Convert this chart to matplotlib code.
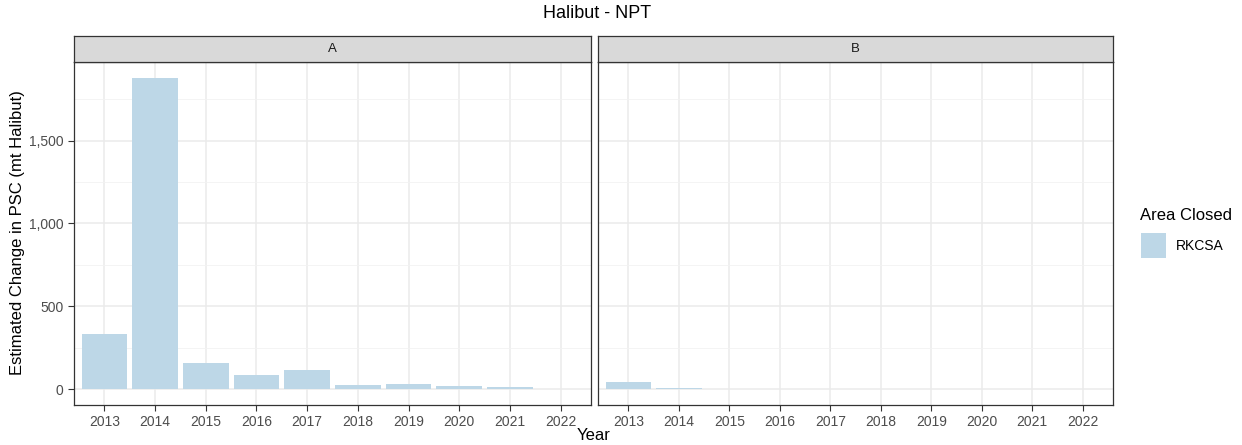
import numpy as np
import matplotlib.pyplot as plt
from matplotlib.patches import Rectangle, Patch
from matplotlib.ticker import FuncFormatter

# data
years = ['2013', '2014', '2015', '2016', '2017', '2018', '2019', '2020', '2021', '2022']
panels = ['A', 'B']
psc_a = [331, 1880, 157, 84, 114, 22, 32, 18, 10, 1]
psc_b = [42, 5, 1, 1, 0.5, 0.5, 0.5, 3, 0.5, 0.5]
values = {'A': psc_a, 'B': psc_b}

bar_color = '#bdd7e7'
plt.rcParams['font.family'] = ['Arial', 'Liberation Sans', 'DejaVu Sans']

fig = plt.figure(figsize=(12.42, 4.45), dpi=100)
W, H = 1242, 445
boxes = [(74, 591), (598, 1113)]
top, bottom, strip_h = 62, 405, 26

ymin, ymax = -96, 1974
x = np.arange(len(years))
axes = []
for (l, r), p in zip(boxes, panels):
    ax = fig.add_axes([l / W, 1 - bottom / H, (r - l) / W, (bottom - top) / H])
    ax.set_axisbelow(True)
    ax.bar(x, values[p], width=0.9, color=bar_color, zorder=2)
    ax.set_xlim(-0.6, len(years) - 0.4)
    ax.set_ylim(ymin, ymax)
    ax.set_xticks(x)
    ax.set_xticklabels(years)
    ax.set_yticks([0, 500, 1000, 1500])
    ax.set_yticks([250, 750, 1250, 1750], minor=True)
    ax.grid(True, which='major', color='#ebebeb', lw=1.1, zorder=0)
    ax.grid(True, which='minor', axis='y', color='#f2f2f2', lw=0.6, zorder=0)
    ax.tick_params(which='major', length=4, color='#333333', labelsize=10, labelcolor='#4d4d4d', width=0.8)
    ax.tick_params(which='minor', length=0)
    for s in ax.spines.values():
        s.set_color('#333333')
        s.set_linewidth(0.9)
    ax.yaxis.set_major_formatter(FuncFormatter(lambda v, pos: f'{int(v):,}'))
    if p == 'B':
        ax.set_yticklabels([])
        ax.tick_params(axis='y', length=0)
    # facet strip
    sax = fig.add_axes([l / W, 1 - top / H, (r - l) / W, strip_h / H])
    sax.set_xticks([])
    sax.set_yticks([])
    sax.set_facecolor('#d9d9d9')
    for s in sax.spines.values():
        s.set_color('#333333')
        s.set_linewidth(0.9)
    sax.text(0.5, 0.5, p, ha='center', va='center', fontsize=9.5, color='#1a1a1a', transform=sax.transAxes)
    axes.append(ax)

fig.text(597 / W, 1 - 14 / H, 'Halibut - NPT', ha='center', va='center', fontsize=13)
fig.text(594 / W, 1 - 436 / H, 'Year', ha='center', va='center', fontsize=12)
fig.text(18 / W, 1 - 233 / H, 'Estimated Change in PSC (mt Halibut)', ha='center', va='center',
         rotation=90, fontsize=12)

# legend
fig.text(1140 / W, 1 - 215 / H, 'Area Closed', ha='left', va='center', fontsize=12)
fig.patches.append(Rectangle((1141 / W, 1 - 258 / H), 25 / W, 25 / H, transform=fig.transFigure,
                             facecolor=bar_color, edgecolor='none'))
fig.text(1176 / W, 1 - 246 / H, 'RKCSA', ha='left', va='center', fontsize=10)

fig.savefig('out.png', dpi=100)
